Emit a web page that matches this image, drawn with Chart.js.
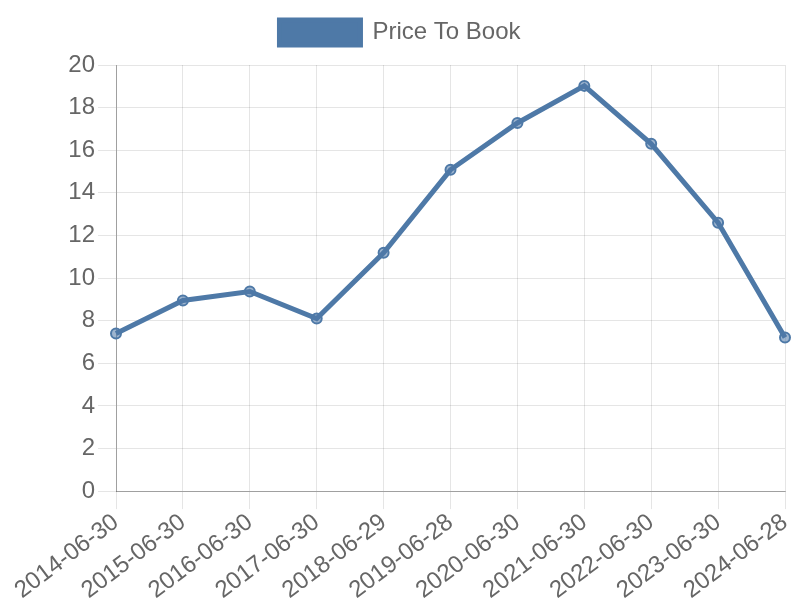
<!DOCTYPE html>
<html>
<head>
<meta charset="utf-8">
<script src="https://cdn.jsdelivr.net/npm/chart.js@4/dist/chart.umd.min.js"></script>
<style>
html,body{margin:0;padding:0;background:#fff;}
#wrap{width:800px;height:600px;}
</style>
</head>
<body>
<div id="wrap"><canvas id="c" width="800" height="600"></canvas></div>
<script>
const categories = ["2014-06-30","2015-06-30","2016-06-30","2017-06-30","2018-06-29","2019-06-28","2020-06-30","2021-06-30","2022-06-30","2023-06-30","2024-06-28"];
const priceToBook = [7.4, 8.95, 9.37, 8.1, 11.19, 15.08, 17.28, 19.02, 16.3, 12.6, 7.21];
const seriesName = "Price To Book";

Chart.defaults.font.family = "'Liberation Sans', Arial, sans-serif";
Chart.defaults.color = "#666";

const legendSpacer = {
  id: 'legendSpacer',
  beforeInit(chart) {
    const origFit = chart.legend.fit;
    chart.legend.fit = function () {
      origFit.call(this);
      this.height += 10;
    };
  }
};

new Chart(document.getElementById('c'), {
  type: 'line',
  data: {
    labels: categories,
    datasets: [{
      label: seriesName,
      data: priceToBook,
      borderColor: 'rgb(78,121,167)',
      backgroundColor: 'rgb(78,121,167)',
      pointBackgroundColor: 'rgba(78,121,167,0.55)',
      pointBorderColor: 'rgb(78,121,167)',
      pointBorderWidth: 2,
      pointRadius: 5,
      borderWidth: 5,
      tension: 0,
      fill: false
    }]
  },
  plugins: [legendSpacer],
  options: {
    responsive: false,
    animation: false,
    layout: { padding: { left: 0, right: 0, top: 10, bottom: -4 } },
    plugins: {
      legend: {
        display: true,
        labels: { font: { size: 24 }, boxWidth: 81, boxHeight: 25, color: '#666', padding: 10 }
      },
      tooltip: { enabled: false }
    },
    scales: {
      x: {
        grid: { color: 'rgba(0,0,0,0.1)', tickLength: 18 },
        border: { color: 'rgba(0,0,0,0.3)' },
        ticks: { font: { size: 24 }, maxRotation: 37, minRotation: 37, color: '#666', padding: -1 },
        afterFit(s) { s.paddingLeft = 0; s.paddingRight = 15; }
      },
      y: {
        min: 0, max: 20,
        grid: { color: 'rgba(0,0,0,0.1)', tickLength: 18 },
        border: { color: 'rgba(0,0,0,0.3)' },
        ticks: { font: { size: 24 }, stepSize: 2, color: '#666' },
        afterFit(s) { s.width = 116; }
      }
    }
  }
});
</script>
</body>
</html>
